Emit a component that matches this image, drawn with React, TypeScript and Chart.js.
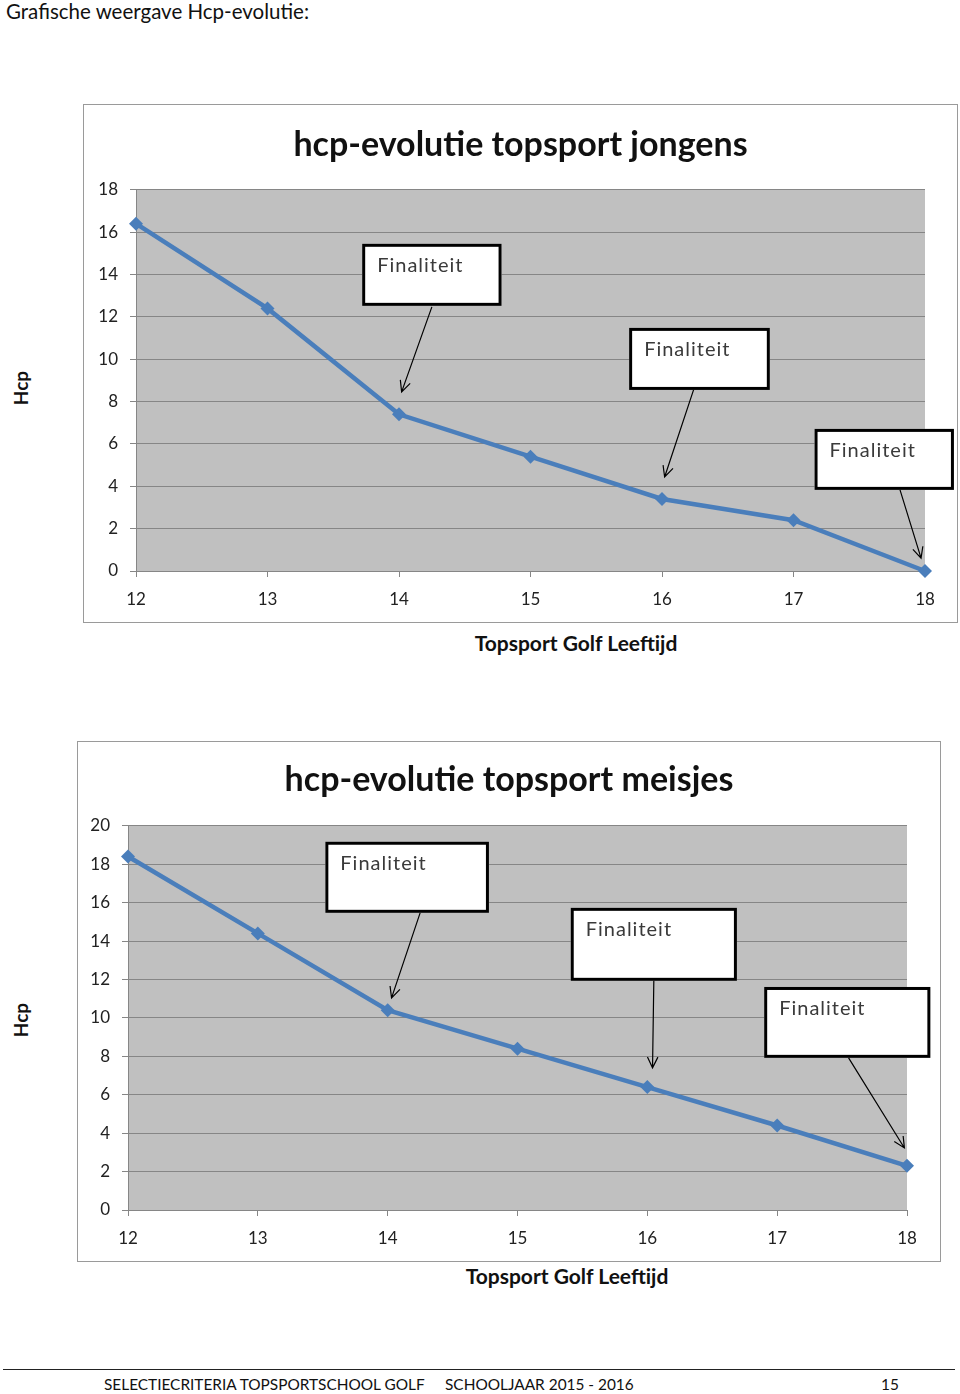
import React, { useEffect, useRef } from 'react';
import { Chart, registerables } from 'chart.js';
Chart.register(...registerables);

// ---- data ----
const ages = [12, 13, 14, 15, 16, 17, 18];
const hcpBoys = [16.4, 12.4, 7.4, 5.4, 3.4, 2.4, 0.0];
const hcpGirls = [18.4, 14.4, 10.4, 8.4, 6.4, 4.4, 2.3];
const boysTitle = 'hcp-evolutie topsport jongens';
const girlsTitle = 'hcp-evolutie topsport meisjes';
const noteLabel = 'Finaliteit';
const xTitle = 'Topsport Golf Leeftijd';
const yTitle = 'Hcp';

// callout boxes in data units: [xLeft, xRight, yTop, yBottom]
const boysBoxes = [
  [13.72, 14.78, 15.45, 12.52],
  [15.75, 16.82, 11.48, 8.55],
  [17.16, 18.22, 6.71, 3.83],
];
// arrows in data units: [xFrom, yFrom, xTo, yTo]
const boysArrows = [
  [14.25, 12.47, 14.02, 8.46],
  [16.24, 8.55, 16.02, 4.44],
  [17.81, 3.83, 17.97, 0.61],
];
const girlsBoxes = [
  [13.52, 14.78, 19.17, 15.47],
  [15.41, 16.69, 15.73, 11.93],
  [16.9, 18.18, 11.61, 7.92],
];
const girlsArrows = [
  [14.25, 15.47, 14.03, 11.04],
  [16.05, 11.93, 16.04, 7.4],
  [17.55, 7.92, 17.98, 3.23],
];

const FONT = 'Lato, "Open Sans", sans-serif';

const plotBgPlugin = {
  id: 'plotBg',
  beforeDraw(chart: any) {
    const { ctx, chartArea } = chart;
    ctx.save();
    ctx.fillStyle = '#c0c0c0';
    ctx.fillRect(chartArea.left, chartArea.top, chartArea.right - chartArea.left, chartArea.bottom - chartArea.top);
    ctx.restore();
  },
};

const notesPlugin = {
  id: 'notes',
  afterDatasetsDraw(chart: any, _args: any, opts: any) {
    const { ctx } = chart;
    const xs = chart.scales.x;
    const ys = chart.scales.y;
    ctx.save();
    (opts.boxes || []).forEach((b: number[]) => {
      const l = xs.getPixelForValue(b[0]);
      const r = xs.getPixelForValue(b[1]);
      const t = ys.getPixelForValue(b[2]);
      const bt = ys.getPixelForValue(b[3]);
      ctx.fillStyle = '#ffffff';
      ctx.fillRect(l, t, r - l, bt - t);
      ctx.lineWidth = 3;
      ctx.strokeStyle = '#000000';
      ctx.strokeRect(l + 1.5, t + 1.5, r - l - 3, bt - t - 3);
      ctx.fillStyle = '#3a3a3a';
      ctx.font = '20px ' + FONT;
      try {
        (ctx as any).letterSpacing = '1px';
      } catch (e) {}
      ctx.textAlign = 'left';
      ctx.textBaseline = 'middle';
      ctx.fillText(opts.label, l + 15, t + 22);
      try {
        (ctx as any).letterSpacing = '0px';
      } catch (e) {}
    });
    (opts.arrows || []).forEach((a: number[]) => {
      const x1 = xs.getPixelForValue(a[0]);
      const y1 = ys.getPixelForValue(a[1]);
      const x2 = xs.getPixelForValue(a[2]);
      const y2 = ys.getPixelForValue(a[3]);
      ctx.strokeStyle = '#000000';
      ctx.lineWidth = 1.2;
      ctx.beginPath();
      ctx.moveTo(x1, y1);
      ctx.lineTo(x2, y2);
      const ang = Math.atan2(y2 - y1, x2 - x1);
      const len = 12;
      const spread = 0.45;
      ctx.moveTo(x2 - len * Math.cos(ang - spread), y2 - len * Math.sin(ang - spread));
      ctx.lineTo(x2, y2);
      ctx.lineTo(x2 - len * Math.cos(ang + spread), y2 - len * Math.sin(ang + spread));
      ctx.stroke();
    });
    ctx.restore();
  },
};

type CP = {
  width: number;
  height: number;
  title: string;
  values: number[];
  yMax: number;
  boxes: number[][];
  arrows: number[][];
  yWidth: number;
  xHeight: number;
  padRight: number;
  titlePadTop: number;
  titlePadBottom: number;
};

function HcpChart(p: CP) {
  const ref = useRef<HTMLCanvasElement | null>(null);
  useEffect(() => {
    if (!ref.current) return;
    const chart = new Chart(ref.current, {
      type: 'line',
      data: {
        datasets: [
          {
            data: ages.map((a, i) => ({ x: a, y: p.values[i] })),
            borderColor: '#4a7ebb',
            backgroundColor: '#4a7ebb',
            borderWidth: 4.5,
            pointStyle: 'rectRot',
            pointRadius: 7,
            pointBorderWidth: 0,
            pointBackgroundColor: '#4a7ebb',
            tension: 0,
            clip: false as any,
          },
        ],
      },
      options: {
        animation: false,
        responsive: false,
        maintainAspectRatio: false,
        devicePixelRatio: 1,
        layout: { padding: 0 },
        plugins: {
          legend: { display: false },
          tooltip: { enabled: false },
          title: {
            display: true,
            text: p.title,
            color: '#111111',
            font: { family: FONT, size: 34, weight: 'bold', lineHeight: 1.2 },
            padding: { top: p.titlePadTop, bottom: p.titlePadBottom },
          },
          notes: { boxes: p.boxes, arrows: p.arrows, label: noteLabel },
        } as any,
        scales: {
          x: {
            type: 'linear',
            min: 12,
            max: 18,
            ticks: {
              stepSize: 1,
              color: '#222222',
              font: { family: FONT, size: 17 },
              padding: 12,
            },
            grid: { drawOnChartArea: false, drawTicks: true, tickLength: 6, color: '#868686' },
            border: { display: true, color: '#868686', width: 1 },
            afterFit: (s: any) => {
              s.height = p.xHeight;
            },
          },
          y: {
            min: 0,
            max: p.yMax,
            ticks: {
              stepSize: 2,
              color: '#222222',
              font: { family: FONT, size: 17 },
              padding: 12,
            },
            grid: { color: '#868686', tickLength: 6, drawTicks: true },
            border: { display: true, color: '#868686', width: 1 },
            afterFit: (s: any) => {
              s.width = p.yWidth;
            },
          },
          // empty right-hand spacer so the plot ends where the reference's does
          ySpacer: {
            type: 'linear',
            position: 'right',
            display: true,
            ticks: { display: false },
            grid: { display: false, drawTicks: false },
            border: { display: false },
            afterFit: (s: any) => {
              s.width = p.padRight;
            },
          },
        } as any,
      },
      plugins: [plotBgPlugin, notesPlugin],
    });
    return () => chart.destroy();
  }, []);
  return (
    <canvas
      ref={ref}
      width={p.width}
      height={p.height}
      style={{ display: 'block', width: p.width + 'px', height: p.height + 'px' }}
    />
  );
}

const abs = (s: React.CSSProperties): React.CSSProperties => ({ position: 'absolute', ...s });

const axisTitleStyle = (left: number, top: number, rotate: boolean): React.CSSProperties =>
  abs({
    left,
    top,
    transform: rotate ? 'translate(-50%, -50%) rotate(-90deg)' : 'translate(-50%, -50%)',
    fontSize: rotate ? 19 : 21,
    fontWeight: 'bold',
    color: '#111',
    whiteSpace: 'nowrap',
  });

export default function App() {
  return (
    <div style={abs({ left: 0, top: 0, width: 960, height: 1394, background: '#fff', fontFamily: FONT, overflow: 'hidden' })}>
      <div style={abs({ left: 6, top: -1, fontSize: 20.5, color: '#111', whiteSpace: 'nowrap' })}>
        Grafische weergave Hcp-evolutie:
      </div>

      {/* chart 1 */}
      <div style={abs({ left: 83, top: 104, border: '1px solid #9a9a9a' })}>
        <HcpChart
          width={873}
          height={517}
          title={boysTitle}
          values={hcpBoys}
          yMax={18}
          boxes={boysBoxes}
          arrows={boysArrows}
          yWidth={52}
          xHeight={51}
          padRight={32}
          titlePadTop={20}
          titlePadBottom={24}
        />
      </div>
      <div style={axisTitleStyle(20, 388, true)}>{yTitle}</div>
      <div style={axisTitleStyle(576, 642, false)}>{xTitle}</div>

      {/* chart 2 */}
      <div style={abs({ left: 77, top: 741, border: '1px solid #9a9a9a' })}>
        <HcpChart
          width={862}
          height={519}
          title={girlsTitle}
          values={hcpGirls}
          yMax={20}
          boxes={girlsBoxes}
          arrows={girlsArrows}
          yWidth={50}
          xHeight={51}
          padRight={33}
          titlePadTop={18}
          titlePadBottom={25}
        />
      </div>
      <div style={axisTitleStyle(20, 1020, true)}>{yTitle}</div>
      <div style={axisTitleStyle(567, 1275, false)}>{xTitle}</div>

      {/* footer */}
      <div style={abs({ left: 3, top: 1369, width: 952, height: 0, borderTop: '1.5px solid #222' })} />
      <div style={abs({ left: 104, top: 1375, fontSize: 15.4, color: '#111', whiteSpace: 'nowrap' })}>
        SELECTIECRITERIA TOPSPORTSCHOOL GOLF
      </div>
      <div style={abs({ left: 445, top: 1375, fontSize: 15.4, color: '#111', whiteSpace: 'nowrap' })}>
        SCHOOLJAAR 2015 - 2016
      </div>
      <div style={abs({ left: 881, top: 1375, fontSize: 15.4, color: '#111', whiteSpace: 'nowrap' })}>
        15
      </div>
    </div>
  );
}
